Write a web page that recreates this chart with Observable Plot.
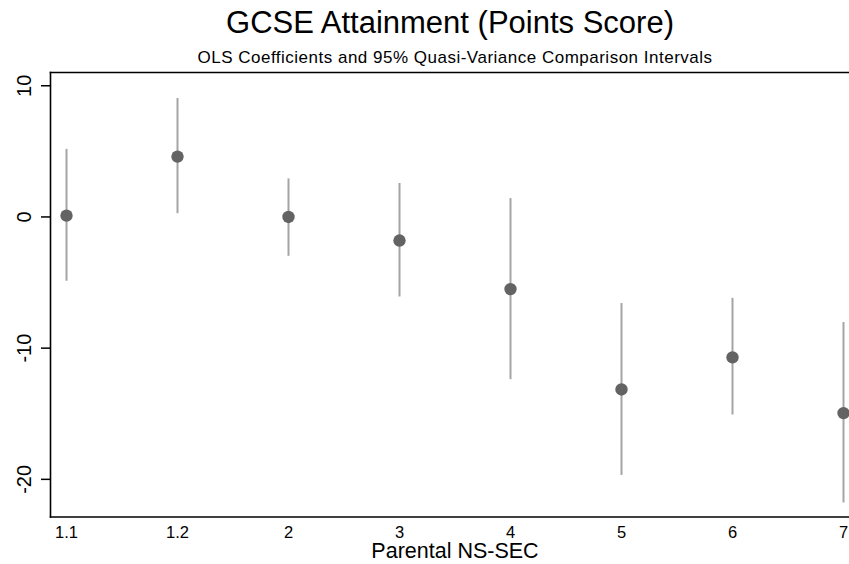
<!DOCTYPE html>
<html>
<head>
<meta charset="utf-8">
<script src="https://cdn.jsdelivr.net/npm/d3@7"></script>
<script src="https://cdn.jsdelivr.net/npm/@observablehq/plot@0.6"></script>
<style>
  html, body { margin: 0; padding: 0; background: #fff; }
  body { width: 849px; height: 564px; overflow: hidden; font-family: "Liberation Sans", Arial, sans-serif; }
  #head { position: relative; width: 849px; height: 66px; }
  #title, #subtitle { position: absolute; white-space: nowrap; line-height: 1; color: #000; transform: translateX(-50%); }
  #title { font-size: 31px; left: 450px; top: 7px; }
  #subtitle { font-size: 17px; letter-spacing: 0.5px; left: 455px; top: 48.9px; }
  svg { display: block; }
</style>
</head>
<body>
<div id="head">
  <div id="title">GCSE Attainment (Points Score)</div>
  <div id="subtitle">OLS Coefficients and 95% Quasi-Variance Comparison Intervals</div>
</div>
<div id="chart"></div>
<script>
const categories = ["1.1", "1.2", "2", "3", "4", "5", "6", "7"];
const estimates  = [0.1, 4.6, 0.0, -1.8, -5.5, -13.15, -10.7, -14.95];
const lower      = [-4.9, 0.25, -3.0, -6.1, -12.4, -19.7, -15.1, -21.8];
const upper      = [5.15, 9.03, 2.9, 2.55, 1.4, -6.6, -6.2, -8.05];
const yTicks     = [10, 0, -10, -20];
const xTitle     = "Parental NS-SEC";

const data = categories.map((c, i) => ({cat: c, est: estimates[i], lo: lower[i], hi: upper[i]}));

const font = "'Liberation Sans', Arial, sans-serif";

const chart = Plot.plot({
  width: 849,
  height: 498,
  marginTop: 6,
  marginBottom: 47.5,
  marginLeft: 50,
  marginRight: 0,
  style: {fontFamily: font, background: "#fff", color: "#000", overflow: "visible"},
  x: {type: "point", domain: categories, padding: 0, insetLeft: 14.3, insetRight: 4.3, label: null, axis: null},
  y: {domain: [-22.87, 11.01], label: null, axis: null},
  marks: [
    Plot.ruleX(data, {x: "cat", y1: "lo", y2: "hi", stroke: "#a4a4a4", strokeWidth: 2}),
    Plot.dot(data, {x: "cat", y: "est", r: 6.2, fill: "#636363", stroke: null}),
    Plot.axisY({ticks: yTicks, tickSize: 9, tickFormat: () => "", label: null, stroke: "#000", strokeWidth: 1.5}),
    Plot.text(yTicks, {y: d => d, text: d => String(d), frameAnchor: "left", dx: -25.5, rotate: -90, textAnchor: "middle", lineAnchor: "middle", fontSize: 20, fill: "#000"}),
    Plot.text(categories, {x: d => d, text: d => d, frameAnchor: "bottom", dy: 21, lineAnchor: "bottom", fontSize: 16.5, fill: "#000"}),
    Plot.text([xTitle], {frameAnchor: "bottom", dx: 5, dy: 41.3, lineAnchor: "bottom", fontSize: 21.5, fill: "#000"}),
    Plot.frame({anchor: "left", stroke: "#000", strokeWidth: 1.6}),
    Plot.frame({anchor: "top", stroke: "#000", strokeWidth: 1.6}),
    Plot.frame({anchor: "bottom", stroke: "#000", strokeWidth: 1.6})
  ]
});
document.getElementById("chart").appendChild(chart);
</script>
</body>
</html>
